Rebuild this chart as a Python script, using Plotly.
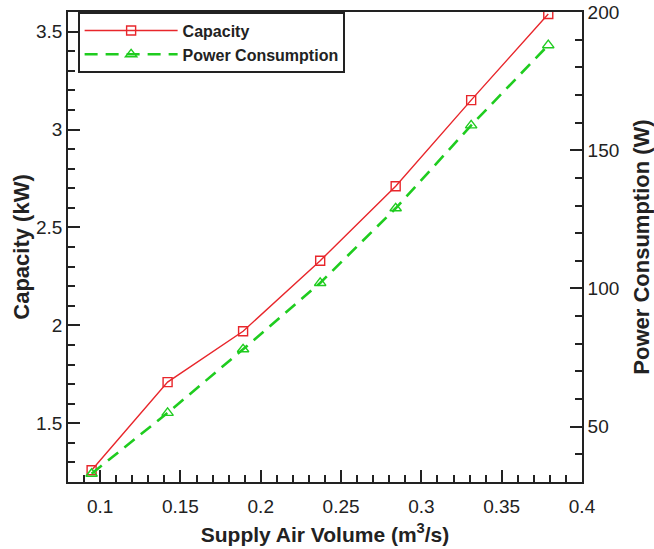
import plotly.graph_objects as go

supply_air = [0.0947, 0.142, 0.189, 0.237, 0.284, 0.331, 0.379]
capacity_kw = [1.26, 1.71, 1.97, 2.33, 2.71, 3.15, 3.59]
power_w = [33, 55, 78, 102, 129, 159, 188]

x_ticks = [0.1, 0.15, 0.2, 0.25, 0.3, 0.35, 0.4]
x_labels = ["0.1", "0.15", "0.2", "0.25", "0.3", "0.35", "0.4"]
y1_ticks = [1.5, 2, 2.5, 3, 3.5]
y1_labels = ["1.5", "2", "2.5", "3", "3.5"]
y2_ticks = [50, 100, 150, 200]

RED = "#e8262b"
GREEN = "#1fcc1f"
FONT = "Liberation Sans, Arial, sans-serif"

fig = go.Figure()
fig.add_trace(go.Scatter(
    x=supply_air, y=capacity_kw, name="Capacity", mode="lines+markers",
    line=dict(color=RED, width=1.4),
    marker=dict(symbol="square-open", size=9, color=RED, line=dict(width=1.4)),
))
fig.add_trace(go.Scatter(
    x=supply_air, y=power_w, name="Power Consumption", mode="lines+markers",
    yaxis="y2",
    line=dict(color=GREEN, width=2.6, dash="13px,8px"),
    marker=dict(symbol="triangle-up-open", size=10, color=GREEN, line=dict(width=1.4)),
))

axis_common = dict(
    showline=True, linecolor="#222", linewidth=1.6, ticks="inside",
    ticklen=12, tickwidth=1.6, tickcolor="#222", showgrid=False, zeroline=False,
    automargin=False, ticklabeloverflow="allow",
    tickfont=dict(family=FONT, size=19, color="#222"),
)

fig.update_layout(
    width=654, height=549,
    margin=dict(l=68, r=72, t=12, b=67),
    paper_bgcolor="white", plot_bgcolor="white",
    font=dict(family=FONT, color="#222"),
    showlegend=True,
    legend=dict(
        x=0.0195, y=1, xanchor="left", yanchor="top",
        bordercolor="#222", borderwidth=1.6, bgcolor="white",
        font=dict(family=FONT, size=16, color="#222", weight="bold"),
        tracegroupgap=0, itemwidth=93,
    ),
    xaxis=dict(
        **axis_common, range=[0.08, 0.4], mirror=True,
        tickvals=x_ticks, ticktext=x_labels, ticklabelstandoff=6,
        minor=dict(dtick=0.01, ticklen=7, tickwidth=1.6, tickcolor="#222", ticks="inside"),
        title=dict(text="<b>Supply Air Volume (m<sup>3</sup>/s)</b>",
                   font=dict(family=FONT, size=21, color="#222"), standoff=12),
    ),
    yaxis=dict(
        **axis_common, range=[1.2, 3.6],
        tickvals=y1_ticks, ticktext=y1_labels,
        minor=dict(dtick=0.1, ticklen=7, tickwidth=1.6, tickcolor="#222", ticks="inside"),
        title=dict(text="<b>Capacity (kW)</b>",
                   font=dict(family=FONT, size=22, color="#222"), standoff=0),
    ),
    yaxis2=dict(
        **axis_common, range=[30, 200], overlaying="y", side="right",
        tickvals=y2_ticks,
        minor=dict(dtick=10, ticklen=7, tickwidth=1.6, tickcolor="#222", ticks="inside"),
        title=dict(text="<b>Power Consumption (W)</b>",
                   font=dict(family=FONT, size=22, color="#222"), standoff=16),
    ),
)

fig.write_html("out.html", config={"displayModeBar": False},
               post_script="document.body.style.margin='0';")
